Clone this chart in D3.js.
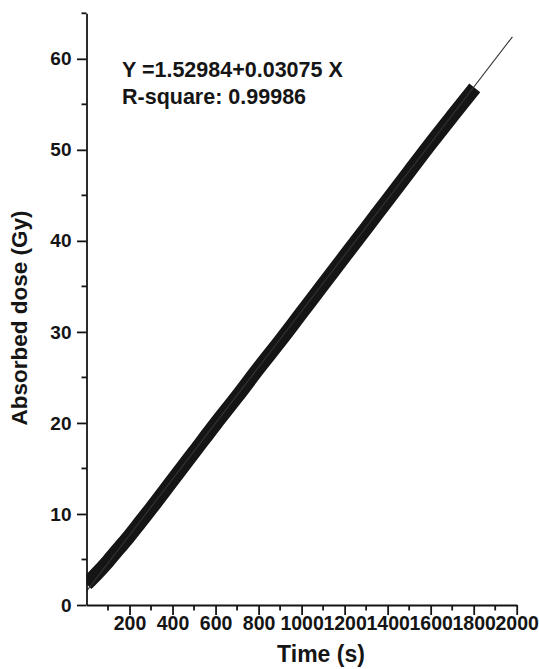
<!DOCTYPE html>
<html>
<head>
<meta charset="utf-8">
<script src="https://cdn.jsdelivr.net/npm/d3@7/dist/d3.min.js"></script>
<style>
  html, body { margin: 0; padding: 0; background: #fff; }
  svg { display: block; }
  text { font-family: "Liberation Sans", Arial, Helvetica, sans-serif; font-weight: bold; fill: #151515; }
</style>
</head>
<body>
<svg id="chart" width="539" height="669"></svg>
<script>
// ---- data ----
const timeS = [0, 50, 100, 150, 200, 250, 300, 400, 500, 600, 700, 800, 900, 1000, 1100, 1200, 1300, 1400, 1500, 1600, 1700, 1805];
const doseGy = [2.3, 3.5, 4.8, 6.2, 7.6, 9.1, 10.6, 13.7, 16.8, 19.9, 22.9, 26.0, 29.0, 32.1, 35.2, 38.3, 41.4, 44.5, 47.6, 50.7, 53.7, 56.8];
const fitIntercept = 1.52984;
const fitSlope = 0.03075;
const fitRange = [0, 1980];
const xMajorTicks = [200, 400, 600, 800, 1000, 1200, 1400, 1600, 1800, 2000];
const xMinorTicks = [100, 300, 500, 700, 900, 1100, 1300, 1500, 1700, 1900];
const yMajorTicks = [0, 10, 20, 30, 40, 50, 60];
const yMinorTicks = [5, 15, 25, 35, 45, 55, 65];
const equationLines = ["Y =1.52984+0.03075 X", "R-square: 0.99986"];
const xTitle = "Time (s)";
const yTitle = "Absorbed dose (Gy)";

// ---- layout ----
const svg = d3.select("#chart");
const x = d3.scaleLinear().domain([0, 2000]).range([86.5, 516.7]);
const y = d3.scaleLinear().domain([0, 65]).range([605, 13.3]);
const ink = "#151515";

svg.append("defs").append("clipPath").attr("id", "plotClip")
  .append("rect")
  .attr("x", x(0)).attr("y", y(65) - 20)
  .attr("width", x(2000) - x(0) + 30).attr("height", y(0) - y(65) + 20);

const plot = svg.append("g").attr("clip-path", "url(#plotClip)");

// data band (dense scatter rendered as thick trace)
const line = d3.line().x((d, i) => x(timeS[i])).y((d, i) => y(doseGy[i])).curve(d3.curveMonotoneX);
plot.append("path")
  .attr("d", line(doseGy))
  .attr("fill", "none")
  .attr("stroke", ink)
  .attr("stroke-width", 14)
  .attr("stroke-linejoin", "round")
  .attr("stroke-linecap", "butt");

// fit line
plot.append("line")
  .attr("x1", x(fitRange[0])).attr("y1", y(fitIntercept + fitSlope * fitRange[0]))
  .attr("x2", x(fitRange[1])).attr("y2", y(fitIntercept + fitSlope * fitRange[1]))
  .attr("stroke", "#333").attr("stroke-width", 1.1);

// x axis
const xAxis = d3.axisBottom(x).tickValues(xMajorTicks).tickSize(10).tickSizeOuter(0).tickPadding(1.5).tickFormat(d3.format("d"));
const gx = svg.append("g").attr("transform", `translate(0,${y(0)})`).call(xAxis);
gx.select(".domain").attr("stroke", ink).attr("stroke-width", 1.8);
gx.selectAll(".tick line").attr("stroke", ink).attr("stroke-width", 1.8);
gx.selectAll(".tick text").attr("font-size", 19.5).attr("font-family", null).attr("fill", ink);
gx.selectAll(".minor").data(xMinorTicks).enter().append("line")
  .attr("x1", d => x(d)).attr("x2", d => x(d)).attr("y1", 0).attr("y2", 5.5)
  .attr("stroke", ink).attr("stroke-width", 1.8);

// y axis
const yAxis = d3.axisLeft(y).tickValues(yMajorTicks).tickSize(9.5).tickSizeOuter(0).tickPadding(5.5).tickFormat(d3.format("d"));
const gy = svg.append("g").attr("transform", `translate(${x(0)},0)`).call(yAxis);
gy.select(".domain").attr("stroke", ink).attr("stroke-width", 1.8);
gy.selectAll(".tick line").attr("stroke", ink).attr("stroke-width", 1.8);
gy.selectAll(".tick text").attr("font-size", 19).attr("font-family", null).attr("fill", ink);
gy.selectAll(".minor").data(yMinorTicks).enter().append("line")
  .attr("y1", d => y(d)).attr("y2", d => y(d)).attr("x1", 0).attr("x2", -5)
  .attr("stroke", ink).attr("stroke-width", 1.8);

// axis titles
svg.append("text").attr("x", 321).attr("y", 662).attr("text-anchor", "middle")
  .attr("font-size", 23).text(xTitle);
svg.append("text").attr("transform", "translate(27,318) rotate(-90)").attr("text-anchor", "middle")
  .attr("font-size", 22.5).text(yTitle);

// equation annotation
svg.selectAll(".eq").data(equationLines).enter().append("text")
  .attr("x", 122).attr("y", (d, i) => 77 + i * 26.5)
  .attr("font-size", 21.5).text(d => d);
</script>
</body>
</html>
